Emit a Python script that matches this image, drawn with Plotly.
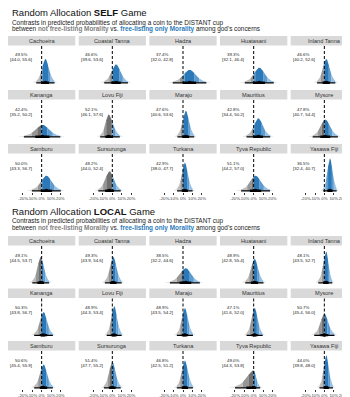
import numpy as np
import plotly.graph_objects as go
from math import gamma, sqrt, pi

sites = ["Cachoeira", "Coastal Tanna", "Hadza", "Huatasani", "Inland Tanna",
         "Kananga", "Lovu Fiji", "Marajo", "Mauritius", "Mysore",
         "Samburu", "Sursurunga", "Turkana", "Tyva Republic", "Yasawa Fiji"]
games = ["SELF", "LOCAL"]

# predicted probability labels (percent)
self_prob = [49.5, 46.6, 37.4, 39.3, 46.6, 42.4, 52.1, 47.6, 42.8, 47.8, 50.0, 48.2, 42.9, 51.1, 36.5]
self_lo = [44.0, 39.6, 32.0, 32.1, 40.2, 35.2, 46.1, 40.6, 34.4, 40.7, 43.3, 44.0, 38.0, 44.2, 32.4]
self_hi = [55.6, 53.6, 42.8, 46.4, 52.6, 50.2, 57.6, 53.6, 50.2, 54.4, 56.7, 52.4, 47.7, 57.0, 40.7]
local_prob = [49.1, 49.3, 38.5, 48.9, 48.1, 50.3, 48.9, 48.9, 47.1, 50.7, 50.6, 51.4, 46.8, 49.0, 44.0]
local_lo = [44.5, 43.9, 32.2, 42.8, 43.5, 43.8, 44.3, 43.5, 41.6, 45.4, 45.4, 47.7, 42.5, 44.3, 39.8]
local_hi = [53.7, 54.6, 44.6, 55.4, 52.7, 56.7, 53.4, 54.2, 52.0, 56.0, 55.9, 55.2, 51.2, 53.8, 48.0]

# contrasts (percentage points): median and 95% interval
self_med = [4, 4, 7, 6, 2, 1, -4, 3, 5, 1, 5, -3, 2, 2, 6]
self_clo = [-5.8, -8.7, -11, -9.5, -7.8, -19, -13, -6, -7.7, -12.5, -10.5, -15, -6.3, -13.5, -1.2]
self_chi = [13.8, 16.7, 25, 21.5, 11.8, 20, 8, 12, 17.7, 14.5, 20.5, 9, 10.3, 17.5, 13.2]
local_med = [-1, 1, 3, 1, 2, 2, 2, 2, 1, 0, 2, 0, 2, 0, 2]
local_clo = [-10, -8, -14, -9, -6.5, -8, -6, -6.6, -7.6, -10.8, -8, -9, -6.6, -20, -5.2]
local_chi = [8, 10, 18, 10.5, 8.5, 12, 10, 10.6, 9.6, 10.8, 12, 9, 10.6, 7, 9.2]

tick_vals = [-0.2, -0.1, 0, 0.1, 0.2]
tick_text = ["-20%", "-10%", "0%", "10%", "20%"]

W, H = 350, 397
FONT = "Liberation Sans"
BLUE = ["#2b79b9", "#5d9bce", "#97c0e2", "#d2e4f2"]
GRAY = ["#707070", "#969696", "#bebebe", "#e2e2e2"]
XR = [-0.36, 0.36]
UPX = 0.417  # density units per pixel
DF = 5
T975 = 2.571
TQ = (0.727, 1.476, 2.571)
TPK = gamma((DF + 1) / 2) / (sqrt(DF * pi) * gamma(DF / 2))

col_w = 67.3
col_step = (W - col_w) / 4
sections = [
    dict(title_y=5, sub_y=(14.5, 21), strips=(28, 82, 136)),
    dict(title_y=203.5, sub_y=(213, 219.5), strips=(228, 280.5, 333)),
]
strip_h = 9.5
panel_bottom_off = 48
base_px = 1.2

fig = go.Figure()
layout = dict(width=W, height=H, margin=dict(l=0, r=0, t=0, b=0),
              paper_bgcolor="white", plot_bgcolor="white", showlegend=False,
              font=dict(family=FONT, color="#222"))
annotations = []
shapes = []

data_sets = [
    (self_prob, self_lo, self_hi, self_med, self_clo, self_chi),
    (local_prob, local_lo, local_hi, local_med, local_clo, local_chi),
]

def py(p):
    return 1 - p / H

k = 0
for s, sec in enumerate(sections):
    annotations.append(dict(xref="paper", yref="paper", x=2 / W, y=py(sec["title_y"]),
                            xanchor="left", yanchor="middle", showarrow=False,
                            text=f"Random Allocation <b>{games[s]}</b> Game",
                            font=dict(size=9.5, color="#111")))
    annotations.append(dict(xref="paper", yref="paper", x=2 / W, y=py(sec["sub_y"][0]),
                            xanchor="left", yanchor="middle", showarrow=False,
                            text="Contrasts in predicted probabilities of allocating a coin to the DISTANT cup",
                            font=dict(size=6.4, color="#222")))
    annotations.append(dict(xref="paper", yref="paper", x=2 / W, y=py(sec["sub_y"][1]),
                            xanchor="left", yanchor="middle", showarrow=False,
                            text="between <span style='color:#7f7f7f'><b>not free-listing Morality</b></span> vs. "
                                 "<span style='color:#2b7bba'><b>free-listing only Morality</b></span> among god's concerns",
                            font=dict(size=6.4, color="#222")))
    prob, plo, phi, med, clo, chi = data_sets[s]
    for i in range(15):
        k += 1
        row, col = divmod(i, 5)
        st = sec["strips"][row]
        x0 = col * col_step
        x1 = x0 + col_w
        ptop = st + strip_h
        pbot = st + panel_bottom_off
        xa = "x" if k == 1 else f"x{k}"
        ya = "y" if k == 1 else f"y{k}"
        xname = "xaxis" if k == 1 else f"xaxis{k}"
        yname = "yaxis" if k == 1 else f"yaxis{k}"
        bottom = row == 2
        layout[xname] = dict(domain=[x0 / W, x1 / W], range=XR, anchor=ya,
                             showgrid=False, zeroline=False, showline=False,
                             tickvals=tick_vals, ticktext=tick_text, tickangle=0,
                             showticklabels=bottom, ticks="outside" if bottom else "",
                             ticklen=2, tickwidth=0.8, tickcolor="#333",
                             tickfont=dict(size=4.3, color="#444"), fixedrange=True)
        ph = pbot - ptop
        layout[yname] = dict(domain=[py(pbot), py(ptop)],
                             range=[-base_px * UPX, (ph - base_px) * UPX],
                             anchor=xa, visible=False, fixedrange=True)
        # strip
        shapes.append(dict(type="rect", xref="paper", yref="paper", x0=x0 / W, x1=x1 / W,
                           y0=py(st + strip_h), y1=py(st), fillcolor="#d9d9d9", line=dict(width=0),
                           layer="below"))
        annotations.append(dict(xref="paper", yref="paper", x=(x0 + x1) / 2 / W, y=py(st + strip_h / 2),
                                xanchor="center", yanchor="middle", showarrow=False, text=sites[i],
                                font=dict(size=5.6, color="#333")))
        # density (split Student-t shape)
        c = med[i] / 100
        lo = clo[i] / 100
        hi = chi[i] / 100
        sl = (c - lo) / T975
        sr = (hi - c) / T975
        grid = np.linspace(max(XR[0], lo - 0.3 * (c - lo)), min(XR[1], hi + 0.3 * (hi - c)), 180)
        brk = [0.0]
        for zq in TQ:
            brk += [c - zq * sl, c + zq * sr]
        brk = [b for b in brk if grid[0] < b < grid[-1]]
        grid = np.unique(np.concatenate([grid, brk]))
        sd = np.where(grid < c, sl, sr)
        dens = 2 * TPK / (sl + sr) * (1 + ((grid - c) / sd) ** 2 / DF) ** (-(DF + 1) / 2)
        groups = {}
        keys = []
        for j in range(len(grid) - 1):
            m = 0.5 * (grid[j] + grid[j + 1])
            hue = 0 if m < 0 else 1
            z = abs(m - c) / (sl if m < c else sr)
            lev = 0 if z < TQ[0] else (1 if z < TQ[1] else (2 if z < TQ[2] else 3))
            keys.append((hue, lev))
        j = 0
        n = len(keys)
        while j < n:
            kk = keys[j]
            e = j
            while e + 1 < n and keys[e + 1] == kk:
                e += 1
            xs = list(grid[j:e + 2])
            ys = list(dens[j:e + 2])
            polyx = xs + [xs[-1], xs[0], xs[0]]
            polyy = ys + [0, 0, ys[0]]
            g = groups.setdefault(kk, ([], []))
            g[0].extend(polyx + [None])
            g[1].extend(polyy + [None])
            j = e + 1
        for (hue, lev), (gx, gy) in groups.items():
            colr = (GRAY if hue == 0 else BLUE)[lev]
            fig.add_trace(go.Scatter(x=gx, y=gy, xaxis=xa, yaxis=ya, mode="lines",
                                     fill="toself", fillcolor=colr, line=dict(width=0, color=colr),
                                     hoverinfo="skip"))
        # zero line
        shapes.append(dict(type="line", xref=xa, yref=f"{ya} domain", x0=0, x1=0, y0=0, y1=1,
                           line=dict(color="black", width=1, dash="3px,2px")))
        # interval
        fig.add_trace(go.Scatter(x=[lo, hi], y=[0, 0], xaxis=xa, yaxis=ya, mode="lines",
                                 line=dict(color="black", width=1.2), hoverinfo="skip"))
        fig.add_trace(go.Scatter(x=[c - 1.0 * sl, c + 1.0 * sr], y=[0, 0], xaxis=xa, yaxis=ya,
                                 mode="lines", line=dict(color="black", width=2.4), hoverinfo="skip"))
        fig.add_trace(go.Scatter(x=[c], y=[0], xaxis=xa, yaxis=ya, mode="markers",
                                 marker=dict(color="black", size=4), hoverinfo="skip"))
        # labels
        annotations.append(dict(xref=xa, yref=f"{ya} domain", x=-0.22, y=1 - 9.5 / ph,
                                xanchor="center", yanchor="middle", showarrow=False,
                                text=f"{prob[i]:.1f}%", font=dict(size=4.4, color="#222")))
        annotations.append(dict(xref=xa, yref=f"{ya} domain", x=-0.22, y=1 - 14.5 / ph,
                                xanchor="center", yanchor="middle", showarrow=False,
                                text=f"[{plo[i]:.1f}, {phi[i]:.1f}]", font=dict(size=4.4, color="#222")))

layout["annotations"] = annotations
layout["shapes"] = shapes
fig.update_layout(**layout)
fig.write_html("out.html")
